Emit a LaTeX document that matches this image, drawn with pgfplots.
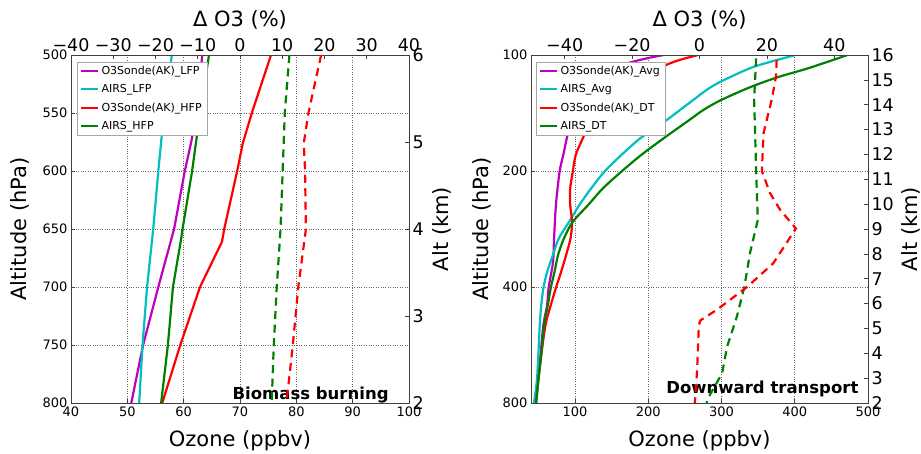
\documentclass[border=0pt]{standalone}
\usepackage{fontspec}
\setmainfont{DejaVu Sans}
\usepackage{pgfplots}
\pgfplotsset{compat=1.18}
\pgfkeys{/pgf/number format/assume math mode=true}

\definecolor{mplm}{rgb}{0.75,0,0.75}
\definecolor{mplc}{rgb}{0,0.75,0.75}
\definecolor{mplg}{rgb}{0,0.5,0}
\definecolor{mplr}{rgb}{1,0,0}

\newcommand{\fsmall}{\fontsize{13}{14}\selectfont}
\newcommand{\fbig}{\fontsize{17.5}{19}\selectfont}
\newcommand{\flab}{\fontsize{21}{23}\selectfont}

\pgfplotsset{
  panel/.style={scale only axis, width=338pt, height=348pt,
    axis line style={black!75, line width=0.9pt},
    major tick length=4pt, tick style={black!75, line width=0.7pt}},
  mainax/.style={panel, xtick pos=left, ytick pos=left, y dir=reverse,
    grid=major, grid style={dotted, black!60, line width=0.6pt},
    tick label style={font=\fsmall},
    xlabel style={font=\flab, at={(axis description cs:0.5,-0.1236)}, anchor=base},
    ylabel style={font=\flab, at={(axis description cs:-0.1302,0.5)}, anchor=base},
    legend style={at={(0.018,0.98)}, anchor=north west, draw=black!35,
      font=\fontsize{11}{12}\selectfont, row sep=4.5pt},
    legend cell align=left},
  topax/.style={panel, y dir=reverse, axis x line*=top, axis y line=none,
    xticklabel style={font=\fbig},
    xlabel style={font=\flab, at={(axis description cs:0.5,1.0805)}, anchor=base}},
  kmax/.style={panel, xmin=0, xmax=1, axis y line*=right, axis x line=none,
    yticklabel style={font=\fbig},
    ylabel style={font=\flab, anchor=base}},
  ln/.style={line width=2.2pt},
  dsh/.style={line width=2.2pt, dash pattern=on 8pt off 5.5pt}
}

\begin{document}
\begin{tikzpicture}
% ---------- left panel: biomass burning ----------
\begin{axis}[mainax, xmin=40, xmax=100, ymin=500, ymax=800,
  xtick={40,50,...,100}, ytick={500,550,...,800},
  xlabel={Ozone (ppbv)}, ylabel={Altitude (hPa)}]
\addplot[mplm, ln] table {
x y
63.3 500
62.3 550
61.3 576
60.2 600
58.3 650
55.5 700
52.8 750
50.7 800
};
\addlegendentry{O3Sonde(AK)\_LFP}
\addplot[mplc, ln] table {
x y
57.9 500
56.5 550
55.5 600
54.6 650
53.5 700
52.7 750
52.1 800
};
\addlegendentry{AIRS\_LFP}
\addplot[mplr, ln] table {
x y
75.5 500
72.1 550
70.5 576
69.5 600
67.2 650
66.8 661
62.9 700
59.4 750
56.2 800
};
\addlegendentry{O3Sonde(AK)\_HFP}
\addplot[mplg, ln] table {
x y
64.5 500
62.9 550
61.5 600
59.8 650
59.5 660
58.8 680
58.1 700
57.2 750
56.0 800
};
\addlegendentry{AIRS\_HFP}
\node[anchor=base east, font=\fontsize{16.5}{18}\selectfont\bfseries]
  at (axis description cs:0.95,0.0115) {Biomass burning};
\end{axis}
\begin{axis}[topax, xmin=-40, xmax=40, ymin=500, ymax=800,
  xtick={-40,-30,...,40},
  xticklabels={−40,−30,−20,−10,0,10,20,30,40},
  xlabel={Δ O3 (\%)}]
\addplot[mplg, dsh] table {
x y
11.7 500
10.6 550
10.1 600
9.6 650
8.7 700
8.0 750
7.5 800
};
\addplot[mplr, dsh] table {
x y
19.2 500
16.2 550
15.1 576
15.4 600
15.6 650
13.8 700
12.5 750
11.0 800
};
\end{axis}
\begin{axis}[kmax, ymin=2, ymax=6, ytick={2,...,6},
  ylabel={Alt (km)}, ylabel style={at={(axis description cs:1.1183,0.5)}}]
\end{axis}

% ---------- right panel: downward transport ----------
\begin{axis}[mainax, at={(460pt,0pt)}, width=337pt,
  xmin=40, xmax=500, ymode=log, ymin=100, ymax=800,
  xtick={100,200,...,500}, ytick={100,200,400,800},
  yticklabels={100,200,400,800},
  xlabel={Ozone (ppbv)}, ylabel={Altitude (hPa)},
  ylabel style={at={(axis description cs:-0.1276,0.5)}},
  legend style={at={(0.015,0.98)}}]
\addplot[mplm, ln, smooth] table {
x y
221 100
167 106
119 122
95 149
84 182
79 201
74 245
71.5 299
70 345
64 402
62 446
57 500
53 600
49 700
46 800
};
\addlegendentry{O3Sonde(AK)\_Avg}
\addplot[mplc, ln, smooth] table {
x y
401 100
346 107
308 115
283 122
252 135
222 149
190 164
163 182
140 201
122 222
106 245
92 271
78 299
70 330
62 366
57 402
54 446
52 500
50 600
48 700
44 800
};
\addlegendentry{AIRS\_Avg}
\addplot[mplr, ln, smooth] table {
x y
268 100
236 104
208 110
172 122
145 135
122 149
111 164
101 182
97 201
93.5 222
93.5 245
96 271
94 299
88 330
81 366
74 402
67 446
60 500
54 600
50 700
47 800
};
\addlegendentry{O3Sonde(AK)\_DT}
\addplot[mplg, ln, smooth] table {
x y
472 100
420 108
378 114
340 121
299 131
275 139
255 148
238 156
222 164
190 182
163 201
138 222
118 245
97 271
85 299
77 330
72 366
67 402
63 446
58 500
54 600
50 700
47 800
};
\addlegendentry{AIRS\_DT}
\node[anchor=base east, font=\fontsize{16.5}{18}\selectfont\bfseries]
  at (axis description cs:0.982,0.0287) {Downward transport};
\end{axis}
\begin{axis}[topax, at={(460pt,0pt)}, width=337pt,
  xmin=-50, xmax=50, ymode=log, ymin=100, ymax=800,
  xtick={-40,-20,...,40},
  xticklabels={−40,−20,0,20,40},
  xlabel={Δ O3 (\%)}]
\addplot[mplg, dsh] table {
x y
16.8 102
16.2 130.8
16.5 159.6
16.8 200
17.3 268
15.0 326
13.3 400
11.1 477
8.2 571
6.7 670
2.8 770
2.1 800
};
\addplot[mplr, dsh] table {
x y
22.9 103
22.7 113.8
21.4 130.8
19.0 159.6
18.5 200
20.9 228
23.9 252
28.6 282
21.9 347
14.1 400
5.2 458
0.3 488
-0.2 502
-0.7 656
-1.4 800
};
\end{axis}
\begin{axis}[kmax, at={(460pt,0pt)}, width=337pt,
  ymin=2, ymax=16, ytick={2,...,16},
  ylabel={Alt (km)}, ylabel style={at={(axis description cs:1.1454,0.5)}}]
\end{axis}

\pgfresetboundingbox
\path[use as bounding box] (-71pt,-50pt) rectangle (850pt,403pt);
\end{tikzpicture}
\end{document}
